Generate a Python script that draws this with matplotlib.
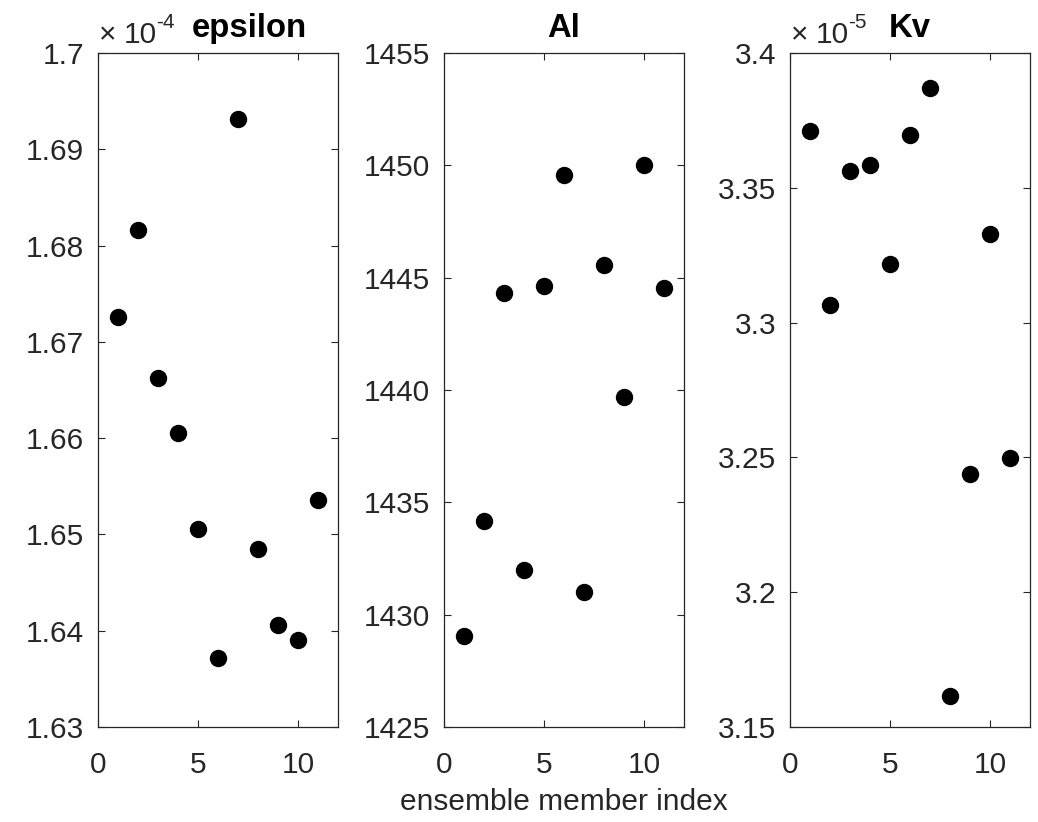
import numpy as np
import matplotlib
matplotlib.use('Agg')
import matplotlib.pyplot as plt
from matplotlib.ticker import FormatStrFormatter

plt.rcParams['font.family'] = ['Liberation Sans', 'DejaVu Sans']

members = np.arange(1, 12)

# values as shown on the axes (epsilon in 1e-4, Kv in 1e-5)
epsilon = [1.6726, 1.6816, 1.6662, 1.6605, 1.6506, 1.6372, 1.6931, 1.6485, 1.6406, 1.6390, 1.6536]
al = [1429.05, 1434.15, 1444.3, 1432.0, 1444.65, 1449.55, 1431.0, 1445.55, 1439.7, 1450.0, 1444.55]
kv = [3.3711, 3.3065, 3.3562, 3.3585, 3.3217, 3.3696, 3.3870, 3.1615, 3.2438, 3.3329, 3.2498]

titles = ['epsilon', 'Al', 'Kv']
exponents = ['-4', None, '-5']
ylims = [(1.63, 1.70), (1425, 1455), (3.15, 3.40)]
ysteps = [0.01, 5, 0.05]
title_x = [0.63, 0.5, 0.5]

gray = '#262626'
fs = 21.5
W, H = 1038, 822
lefts = [98, 444, 790]

def px(x, y):
    return x / W, (H - y) / H

fig = plt.figure(figsize=(W / 100, H / 100), dpi=100)
for i, vals in enumerate([epsilon, al, kv]):
    ax = fig.add_axes([lefts[i] / W, (H - 727) / H, 240 / W, 674 / H])
    ax.plot(members, vals, 'o', color='black', ms=11.5)
    ax.set_xlim(0, 12)
    ax.set_ylim(*ylims[i])
    ax.set_xticks([0, 5, 10])
    lo, hi = ylims[i]
    ax.set_yticks(np.linspace(lo, hi, int(round((hi - lo) / ysteps[i])) + 1))
    ax.yaxis.set_major_formatter(FormatStrFormatter('%g'))
    ax.tick_params(direction='in', top=True, right=True, labelsize=fs,
                   colors=gray, length=5, width=0.8)
    ax.tick_params(axis='x', pad=17)
    ax.tick_params(axis='y', pad=10)
    for s in ax.spines.values():
        s.set_color(gray)
        s.set_linewidth(0.9)
    ax.text(title_x[i], 1.024, titles[i], transform=ax.transAxes, ha='center',
            va='baseline', fontsize=23.7, fontweight='bold', color='black')
    if exponents[i]:
        x0 = lefts[i] + 3
        fig.text(*px(x0 - 2, 43), '×', ha='left', va='baseline',
                 fontsize=fs, color=gray)
        fig.text(*px(x0 + 23, 43), '10', ha='left', va='baseline',
                 fontsize=fs, color=gray)
        fig.text(*px(x0 + 55, 28), exponents[i], ha='left', va='baseline',
                 fontsize=15, color=gray)

fig.text(564 / W, (H - 810) / H, 'ensemble member index', ha='center',
         va='baseline', fontsize=fs, color=gray)

fig.savefig('out.png', dpi=100)
